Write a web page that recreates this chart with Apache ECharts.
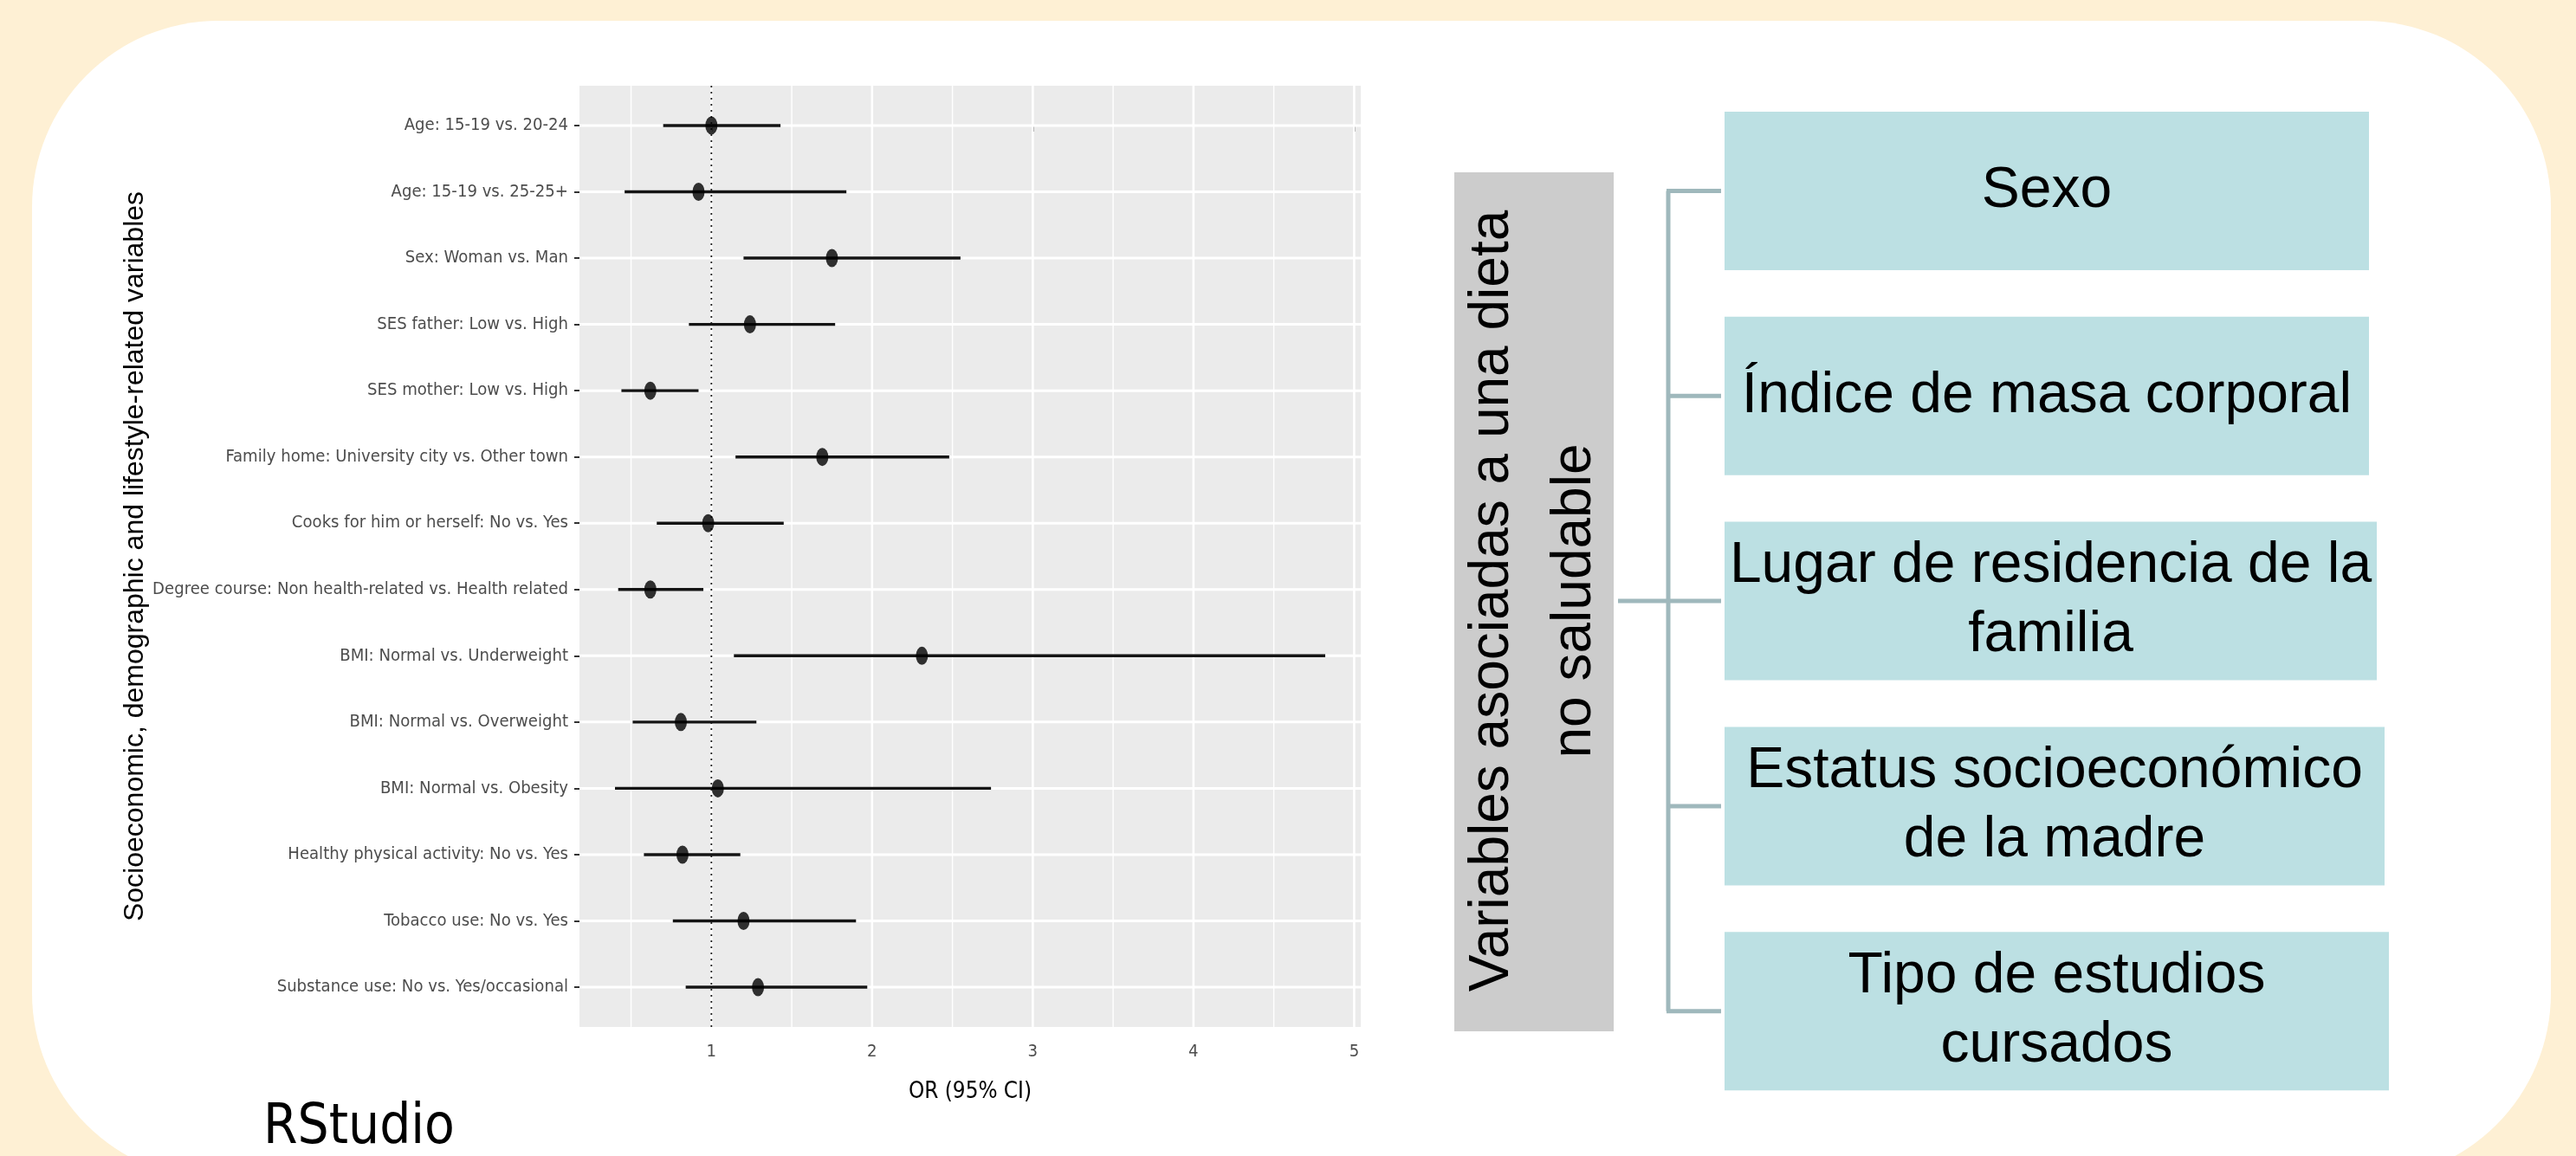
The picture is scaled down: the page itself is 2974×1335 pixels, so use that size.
<!DOCTYPE html>
<html>
<head>
<meta charset="utf-8">
<title>OR (95% CI) - variables asociadas a una dieta no saludable</title>
<script src="https://cdn.jsdelivr.net/npm/echarts@6/dist/echarts.min.js"></script>
<style>
    html, body { margin: 0; padding: 0; background: #fef0d4; }
    #chart { width: 2974px; height: 1335px; }
</style>
</head>
<body>
<div id="chart"></div>
<script>
    // forest plot data
    var categories = [
        'Age: 15-19 vs. 20-24',
        'Age: 15-19 vs. 25-25+',
        'Sex: Woman vs. Man',
        'SES father: Low vs. High',
        'SES mother: Low vs. High',
        'Family home: University city vs. Other town',
        'Cooks for him or herself: No vs. Yes',
        'Degree course: Non health-related vs. Health related',
        'BMI: Normal vs. Underweight',
        'BMI: Normal vs. Overweight',
        'BMI: Normal vs. Obesity',
        'Healthy physical activity: No vs. Yes',
        'Tobacco use: No vs. Yes',
        'Substance use: No vs. Yes/occasional'
    ];
    var orValues = [1.00, 0.92, 1.75, 1.24, 0.62, 1.69, 0.98, 0.62, 2.31, 0.81, 1.04, 0.82, 1.20, 1.29];
    var ciLow    = [0.70, 0.46, 1.20, 0.86, 0.44, 1.15, 0.66, 0.42, 1.14, 0.51, 0.40, 0.58, 0.76, 0.84];
    var ciHigh   = [1.43, 1.84, 2.55, 1.77, 0.92, 2.48, 1.45, 0.95, 4.82, 1.28, 2.74, 1.18, 1.90, 1.97];
    var xTicks = [1, 2, 3, 4, 5];
    var xMinor = [0.5, 1.5, 2.5, 3.5, 4.5];
    var refValue = 1;

    // diagram texts
    var rootLabel = 'Variables asociadas a una dieta\nno saludable';
    var boxLabels = [
        'Sexo',
        'Índice de masa corporal',
        'Lugar de residencia de la\nfamilia',
        'Estatus socioeconómico\nde la madre',
        'Tipo de estudios\ncursados'
    ];

    var NARROW = "'Liberation Sans Narrow', 'Arial Narrow', 'DejaVu Sans Condensed', 'Liberation Sans', sans-serif";
    var SANS = "'Liberation Sans', Arial, sans-serif";

    // pick a font size so that a text fits a given width (narrow font may be missing)
    function fitSize(text, family, targetWidth, maxSize) {
        var ctx = document.createElement('canvas').getContext('2d');
        ctx.font = '100px ' + family;
        var w = ctx.measureText(text).width;
        return Math.min(maxSize, targetWidth / w * 100);
    }

    var labelSize = fitSize(categories[7], NARROW, 480, 26);
    var xTitleSize = fitSize('OR (95% CI)', NARROW, 142, 30);
    var rstudioSize = fitSize('RStudio', NARROW, 221, 72);

    var rows = categories.map(function (c, i) { return i; });
    var lo = Math.min.apply(null, ciLow), hi = Math.max.apply(null, ciHigh);
    var pad = (hi - lo) * 0.05;

    function vLine(color, width, dash) {
        return function (params, api) {
            var cs = params.coordSys;
            var x = api.coord([api.value(0), 0])[0];
            return {
                type: 'line',
                shape: { x1: x, y1: cs.y, x2: x, y2: cs.y + cs.height },
                style: { stroke: color, lineWidth: width, lineDash: dash || null }
            };
        };
    }

    function hLine(params, api) {
        var cs = params.coordSys;
        var y = api.coord([1, api.value(0)])[1];
        return {
            type: 'line',
            shape: { x1: cs.x, y1: y, x2: cs.x + cs.width, y2: y },
            style: { stroke: '#ffffff', lineWidth: 3 }
        };
    }

    function errorBar(params, api) {
        var p1 = api.coord([api.value(0), api.value(2)]);
        var p2 = api.coord([api.value(1), api.value(2)]);
        return {
            type: 'line',
            shape: { x1: p1[0], y1: p1[1], x2: p2[0], y2: p2[1] },
            style: { stroke: '#141414', lineWidth: 3.4 }
        };
    }

    // right-hand diagram
    var boxLeft = 1991, boxHeight = 183, boxTop0 = 129, boxStep = 236.8;
    var boxRight = [2735, 2735, 2744, 2753, 2758];
    var stemX = 1926, rootMidY = 694;
    var lineColor = '#9fb8bc';

    var graphics = [
        { type: 'rect', z: -1, silent: true, shape: { x: 37, y: 24, width: 2908, height: 1338, r: 215 }, style: { fill: '#ffffff' } },
        { type: 'rect', shape: { x: 1679, y: 199, width: 184, height: 992 }, style: { fill: '#cccccc' } },
        {
            type: 'text', x: 1771, y: rootMidY, rotation: Math.PI / 2,
            style: { text: rootLabel, fontFamily: SANS, fontSize: 64, lineHeight: 95, fill: '#000', align: 'center', verticalAlign: 'middle' }
        },
        { type: 'line', shape: { x1: 1868, y1: rootMidY, x2: stemX, y2: rootMidY }, style: { stroke: lineColor, lineWidth: 5 } },
        {
            type: 'line',
            shape: { x1: stemX, y1: boxTop0 + boxHeight / 2, x2: stemX, y2: boxTop0 + 4 * boxStep + boxHeight / 2 },
            style: { stroke: lineColor, lineWidth: 5 }
        },
        {
            type: 'text', x: 304, y: 1304,
            style: { text: 'RStudio', fontFamily: NARROW, fontSize: rstudioSize, fill: '#000', align: 'left', verticalAlign: 'middle' }
        }
    ];
    boxLabels.forEach(function (label, i) {
        var top = boxTop0 + i * boxStep;
        var mid = top + boxHeight / 2;
        graphics.push({ type: 'line', shape: { x1: stemX - 2, y1: mid, x2: boxLeft - 4, y2: mid }, style: { stroke: lineColor, lineWidth: 5 } });
        graphics.push({ type: 'rect', shape: { x: boxLeft, y: top, width: boxRight[i] - boxLeft, height: boxHeight }, style: { fill: '#bce0e3' } });
        graphics.push({
            type: 'text', x: (boxLeft + boxRight[i]) / 2, y: mid,
            style: { text: label, fontFamily: SANS, fontSize: 66, lineHeight: 80, fill: '#000', align: 'center', verticalAlign: 'middle' }
        });
    });

    var chart = echarts.init(document.getElementById('chart'), null, { renderer: 'canvas' });
    var option = {
        backgroundColor: 'transparent',
        animation: false,
        graphic: graphics,
        grid: {
            left: 669, top: 99, width: 902, height: 1087,
            show: true, backgroundColor: '#ebebeb', borderWidth: 0
        },
        xAxis: {
            type: 'value',
            min: lo - pad,
            max: hi + pad,
            name: 'OR (95% CI)',
            nameLocation: 'middle',
            nameGap: 62,
            nameTextStyle: { fontFamily: NARROW, fontSize: xTitleSize, color: '#000' },
            axisLine: { show: false },
            splitLine: { show: false },
            axisTick: { customValues: xTicks, length: 7, lineStyle: { color: '#333', width: 2 } },
            axisLabel: {
                customValues: xTicks, margin: 19,
                fontFamily: NARROW, fontSize: labelSize, color: '#4d4d4d'
            }
        },
        yAxis: {
            type: 'value',
            inverse: true,
            min: -0.6,
            max: categories.length - 0.4,
            name: 'Socioeconomic, demographic and lifestyle-related variables',
            nameLocation: 'middle',
            nameRotate: 90,
            nameGap: 492,
            nameTextStyle: { fontFamily: SANS, fontSize: 32, color: '#000' },
            axisLine: { show: false },
            splitLine: { show: false },
            axisTick: { customValues: rows, length: 6, lineStyle: { color: '#333', width: 2 } },
            axisLabel: {
                customValues: rows, margin: 13,
                fontFamily: NARROW, fontSize: labelSize, color: '#4d4d4d',
                formatter: function (v) { return categories[Math.round(v)]; }
            }
        },
        series: [
            { type: 'custom', z: 1, silent: true, renderItem: vLine('#ffffff', 1.4), data: xMinor.map(function (v) { return [v]; }) },
            { type: 'custom', z: 1, silent: true, renderItem: vLine('#ffffff', 2.6), data: xTicks.map(function (v) { return [v]; }) },
            { type: 'custom', z: 1, silent: true, renderItem: hLine, data: rows.map(function (i) { return [i]; }) },
            { type: 'custom', z: 2, silent: true, renderItem: vLine('#222222', 1.8, [2, 5]), data: [[refValue]] },
            {
                type: 'custom', z: 3, renderItem: errorBar,
                encode: { x: [0, 1], y: 2 },
                data: categories.map(function (c, i) { return [ciLow[i], ciHigh[i], i]; })
            },
            {
                type: 'scatter', z: 4,
                symbol: 'circle', symbolSize: [14, 21],
                itemStyle: { color: '#000' },
                data: orValues.map(function (v, i) { return [v, i]; })
            }
        ]
    };
    chart.setOption(option);

    window.addEventListener('resize', function () {
        chart.resize();
    });
</script>
</body>
</html>
